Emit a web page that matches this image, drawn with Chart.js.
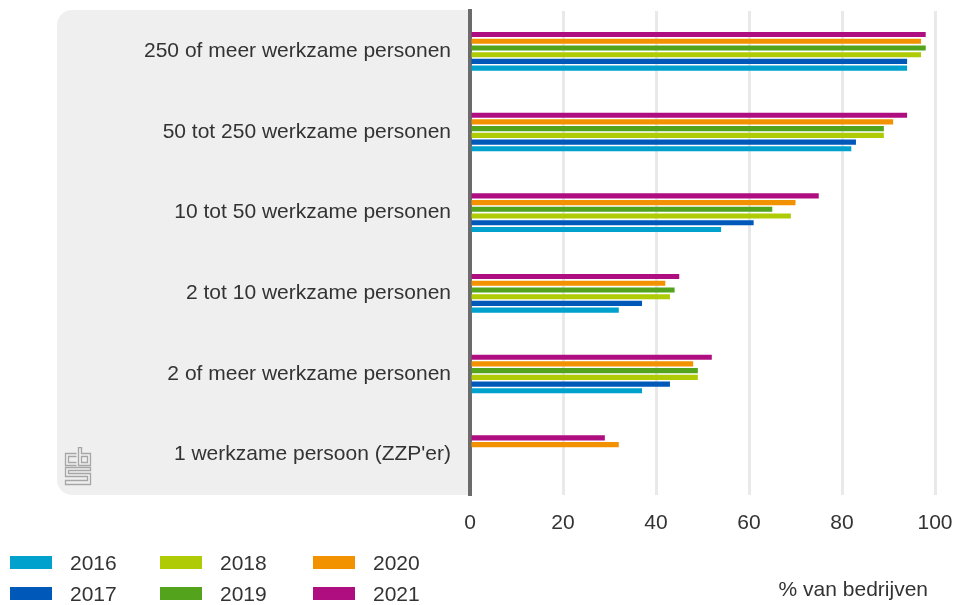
<!DOCTYPE html>
<html>
<head>
<meta charset="utf-8">
<script src="https://cdn.jsdelivr.net/npm/chart.js@4"></script>
<style>
  body { margin: 0; background: #fff; }
  #wrap { position: relative; width: 960px; height: 605px; font-family: "Liberation Sans", Arial, sans-serif; }
  #legend .item { position: absolute; font-size: 21px; color: #333; line-height: 21px; }
  #legend .box { position: absolute; width: 42px; height: 13px; }
  #logo { position: absolute; left: 64px; top: 447px; }
</style>
</head>
<body>
<div id="wrap">
  <canvas id="chart" width="960" height="605"></canvas>
  <div id="legend"></div>
  <svg id="logo" width="30" height="40" viewBox="0 0 30 40">
    <g fill="none" stroke="#a6a6a6" stroke-width="1.3">
      <path d="M12.5,6.5 H1.5 V18.5 H12.5 M12.5,9.5 H4.5 V15.5 H12.5"/>
      <path d="M14.5,0.5 V18.5 H26.5 V6.5 H17.5 V0.5 Z M17.5,9.5 H23.5 V15.5 H17.5 Z"/>
      <path d="M26.5,20.5 H1.5 V29.5 H23.5 V33.5 H1.5 V37.5 H26.5 V26.5 H4.5 V23.5 H26.5 Z"/>
    </g>
  </svg>
</div>
<script>
let categories = [
    '250 of meer werkzame personen',
    '50 tot 250 werkzame personen',
    '10 tot 50 werkzame personen',
    '2 tot 10 werkzame personen',
    '2 of meer werkzame personen',
    '1 werkzame persoon (ZZP\'er)'
];
let years = ['2016', '2017', '2018', '2019', '2020', '2021'];
let colors = ['#00a1cd', '#0058b8', '#afcb05', '#53a31d', '#f39200', '#af0e80'];

let values2016 = [94, 82, 54, 32, 37, null];
let values2017 = [94, 83, 61, 37, 43, null];
let values2018 = [97, 89, 69, 43, 49, null];
let values2019 = [98, 89, 65, 44, 49, null];
let values2020 = [97, 91, 70, 42, 48, 32];
let values2021 = [98, 94, 75, 45, 52, 29];
let xTicks = [0, 20, 40, 60, 80, 100];
let xTitle = '% van bedrijven';

let allValues = [values2016, values2017, values2018, values2019, values2020, values2021];
let fontFamily = '"Liberation Sans", Arial, sans-serif';

// newest year on top inside each group
let datasets = [];
for (let i = years.length - 1; i >= 0; i--) {
    datasets.push({
        label: years[i],
        data: allValues[i],
        backgroundColor: colors[i],
        categoryPercentage: 0.5,
        barPercentage: 0.76
    });
}

let panelPlugin = {
    id: 'panel',
    beforeDraw(chart) {
        let ctx = chart.ctx;
        let area = chart.chartArea;
        ctx.save();
        ctx.fillStyle = '#efefef';
        ctx.beginPath();
        ctx.roundRect(57, 10, area.left - 57, area.bottom - 10, [15, 0, 0, 15]);
        ctx.fill();
        ctx.restore();
    },
    afterDraw(chart) {
        // axis title sits a bit inside the right edge
        let ctx = chart.ctx;
        ctx.save();
        ctx.font = '21px ' + fontFamily;
        ctx.fillStyle = '#333';
        ctx.textAlign = 'right';
        ctx.textBaseline = 'middle';
        ctx.fillText(xTitle, chart.chartArea.right - 7, chart.height - 15);
        ctx.restore();
    }
};

new Chart(document.getElementById('chart'), {
    type: 'bar',
    data: { labels: categories, datasets: datasets },
    plugins: [panelPlugin],
    options: {
        responsive: false,
        animation: false,
        indexAxis: 'y',
        layout: { padding: { top: 11, right: 25, left: 0, bottom: 0 } },
        plugins: {
            legend: { display: false },
            tooltip: { enabled: false }
        },
        scales: {
            x: {
                min: 0,
                max: 100,
                afterBuildTicks: (scale) => { scale.ticks = xTicks.map(v => ({ value: v })); },
                afterFit: (scale) => {
                    scale.height = 110;
                    scale.paddingLeft = 0;
                    scale.paddingRight = 0;
                },
                grid: { color: '#e9e9e9', lineWidth: 3, drawTicks: false },
                border: { display: false },
                ticks: { padding: 16, color: '#333', font: { family: fontFamily, size: 21 } }
            },
            y: {
                afterFit: (scale) => {
                    scale.width = 470;
                    scale.paddingTop = 0;
                    scale.paddingBottom = 0;
                },
                grid: { display: false, drawTicks: false },
                border: { display: true, color: '#6b6b6b', width: 4 },
                ticks: { padding: 19, color: '#333', font: { family: fontFamily, size: 21 } }
            }
        }
    }
});

function renderLegend() {
    let legend = document.getElementById('legend');
    let colX = [10, 160, 313];
    let rowY = [556, 587];
    for (let i = 0; i < years.length; i++) {
        let x = colX[Math.floor(i / 2)];
        let y = rowY[i % 2];
        legend.innerHTML += `
        <div class="box" style="left:${x}px; top:${y}px; background:${colors[i]}"></div>
        <div class="item" style="left:${x + 60}px; top:${y - 4}px">${years[i]}</div>`;
    }
}

renderLegend();
</script>
</body>
</html>
